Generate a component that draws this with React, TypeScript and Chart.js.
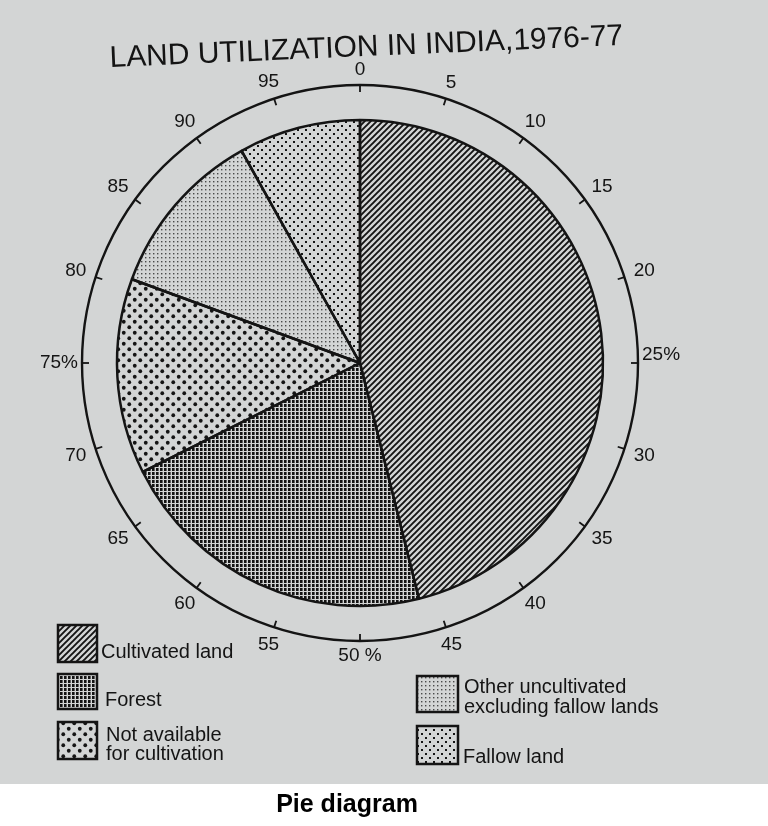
import React, { useEffect, useRef } from 'react';
import { Chart, registerables } from 'chart.js';

Chart.register(...registerables);

const TITLE = 'LAND UTILIZATION IN INDIA,1976-77';
const CAPTION = 'Pie diagram';
const categories = [
  'Cultivated land',
  'Forest',
  'Not available for cultivation',
  'Other uncultivated excluding fallow lands',
  'Fallow land',
];
const legendLines = [
  ['Cultivated land'],
  ['Forest'],
  ['Not available', 'for cultivation'],
  ['Other uncultivated', 'excluding fallow lands'],
  ['Fallow land'],
];
const shares = [46.1, 21.5, 13.0, 11.3, 8.1];
const scaleTicks = [0, 5, 10, 15, 20, 25, 30, 35, 40, 45, 50, 55, 60, 65, 70, 75, 80, 85, 90, 95];
const scaleTickLabels = ['0', '5', '10', '15', '20', '25%', '30', '35', '40', '45', '50 %', '55', '60', '65', '70', '75%', '80', '85', '90', '95'];
const patternKinds = ['diagonal', 'grid', 'bigdots', 'finedots', 'meddots'];

const FONT = '"Liberation Sans", Arial, sans-serif';
const INK = '#141414';

function makePattern(kind: string): CanvasPattern | string {
  const t = document.createElement('canvas');
  let w = 6, h = 6;
  if (kind === 'grid') { w = 4; h = 4; }
  if (kind === 'bigdots') { w = 11; h = 11; }
  if (kind === 'finedots') { w = 4; h = 4; }
  if (kind === 'meddots') { w = 8; h = 8; }
  t.width = w; t.height = h;
  const c = t.getContext('2d')!;
  c.fillStyle = INK;
  c.strokeStyle = INK;
  if (kind === 'diagonal') {
    c.lineWidth = 1.9;
    c.beginPath();
    c.moveTo(-1, w + 1); c.lineTo(w + 1, -1);
    c.moveTo(-1, 1); c.lineTo(1, -1);
    c.moveTo(w - 1, w + 1); c.lineTo(w + 1, w - 1);
    c.stroke();
  } else if (kind === 'grid') {
    c.fillRect(0, 0, 2.6, 3);
  } else if (kind === 'bigdots') {
    c.beginPath(); c.arc(2.75, 2.75, 1.9, 0, Math.PI * 2); c.fill();
    c.beginPath(); c.arc(8.25, 8.25, 1.9, 0, Math.PI * 2); c.fill();
  } else if (kind === 'finedots') {
    c.fillStyle = '#4a4a4a';
    c.fillRect(1, 1, 1.4, 1.4);
  } else if (kind === 'meddots') {
    c.fillRect(1, 1, 2, 2);
    c.fillRect(5, 5, 2, 2);
  }
  const ctx = document.createElement('canvas').getContext('2d')!;
  return ctx.createPattern(t, 'repeat') || INK;
}

const decorPlugin = {
  id: 'decor',
  beforeDraw(chart: any) {
    const ctx = chart.ctx as CanvasRenderingContext2D;
    ctx.save();
    ctx.fillStyle = '#d3d5d5';
    ctx.fillRect(0, 0, chart.width, 784);
    ctx.fillStyle = '#ffffff';
    ctx.fillRect(0, 784, chart.width, chart.height - 784);
    ctx.restore();
  },
  afterDraw(chart: any) {
    const ctx = chart.ctx as CanvasRenderingContext2D;
    const arc = chart.getDatasetMeta(0).data[0];
    const cx = arc.x, cy = arc.y;
    const R = arc.outerRadius + 35;
    ctx.save();
    // outer scale ring
    ctx.strokeStyle = INK;
    ctx.lineWidth = 2.4;
    ctx.beginPath();
    ctx.arc(cx, cy, R, 0, Math.PI * 2);
    ctx.stroke();
    ctx.fillStyle = INK;
    ctx.font = `19px ${FONT}`;
    ctx.textBaseline = 'middle';
    scaleTicks.forEach((v, i) => {
      const a = (v / 100) * Math.PI * 2 - Math.PI / 2;
      const cs = Math.cos(a), sn = Math.sin(a);
      ctx.lineWidth = 1.8;
      ctx.beginPath();
      ctx.moveTo(cx + cs * R, cy + sn * R);
      ctx.lineTo(cx + cs * (R - 7), cy + sn * (R - 7));
      ctx.stroke();
      const label = scaleTickLabels[i];
      if (v === 25) {
        ctx.textAlign = 'left';
        ctx.fillText(label, cx + R + 4, cy - 8);
      } else if (v === 75) {
        ctx.textAlign = 'right';
        ctx.fillText(label, cx - R - 4, cy);
      } else {
        const tw = ctx.measureText(label).width;
        const r = R + 9 + (tw / 2) * Math.abs(cs) + 6 * Math.abs(sn);
        ctx.textAlign = 'center';
        ctx.fillText(label, cx + cs * r, cy + sn * r);
      }
    });

    // title (slightly tilted as in the scanned page)
    ctx.save();
    ctx.font = `30px ${FONT}`;
    ctx.textAlign = 'left';
    ctx.textBaseline = 'alphabetic';
    const tw = ctx.measureText(TITLE).width;
    ctx.translate(110, 67);
    ctx.rotate(-0.043);
    ctx.scale(514 / tw, 1);
    ctx.fillText(TITLE, 0, 0);
    ctx.restore();

    // legend
    const pats = chart.data.datasets[0].backgroundColor;
    const boxes = [
      { x: 58, y: 625, w: 39, h: 37, tx: 101, ty: [652] },
      { x: 58, y: 674, w: 39, h: 35, tx: 105, ty: [700] },
      { x: 58, y: 722, w: 39, h: 37, tx: 106, ty: [735, 754] },
      { x: 417, y: 676, w: 41, h: 36, tx: 464, ty: [687, 707] },
      { x: 417, y: 726, w: 41, h: 38, tx: 463, ty: [757] },
    ];
    ctx.font = `20px ${FONT}`;
    ctx.textAlign = 'left';
    ctx.textBaseline = 'middle';
    boxes.forEach((b, i) => {
      ctx.fillStyle = pats[i];
      ctx.fillRect(b.x, b.y, b.w, b.h);
      ctx.strokeStyle = INK;
      ctx.lineWidth = 2.5;
      ctx.strokeRect(b.x, b.y, b.w, b.h);
      ctx.fillStyle = INK;
      legendLines[i].forEach((ln, j) => ctx.fillText(ln, b.tx, b.ty[j]));
    });

    // caption
    ctx.fillStyle = '#000';
    ctx.font = `bold 25px ${FONT}`;
    ctx.textAlign = 'center';
    ctx.textBaseline = 'alphabetic';
    ctx.fillText(CAPTION, 347, 812);
    ctx.restore();
  },
};

export default function App() {
  const ref = useRef<HTMLCanvasElement | null>(null);
  useEffect(() => {
    if (!ref.current) return;
    const patterns = patternKinds.map(makePattern);
    const chart = new Chart(ref.current, {
      type: 'pie',
      data: {
        labels: categories,
        datasets: [
          {
            data: shares,
            backgroundColor: patterns as any,
            borderColor: INK,
            borderWidth: 2.5,
            radius: 243,
          } as any,
        ],
      },
      options: {
        responsive: false,
        animation: false,
        events: [],
        radius: 243,
        layout: { padding: { left: 117, right: 165, top: 120, bottom: 220 } },
        plugins: {
          legend: { display: false },
          tooltip: { enabled: false },
          title: { display: false },
        },
      } as any,
      plugins: [decorPlugin],
    });
    return () => chart.destroy();
  }, []);
  return (
    <div style={{ position: 'absolute', left: 0, top: 0, width: 768, height: 826 }}>
      <canvas ref={ref} width={768} height={826} style={{ display: 'block' }} />
    </div>
  );
}
